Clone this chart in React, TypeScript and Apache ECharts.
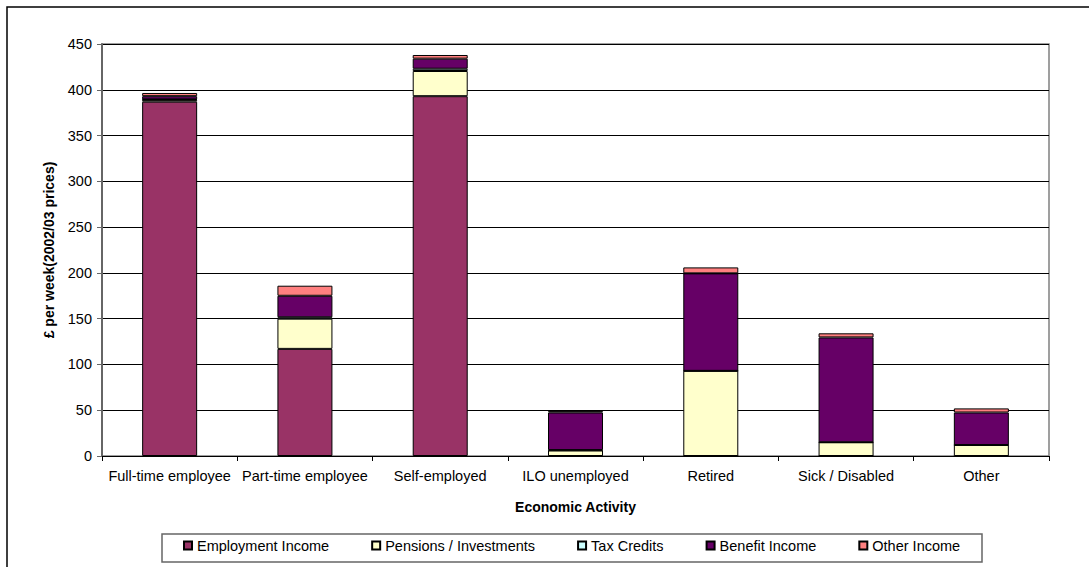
import React, { useEffect, useRef } from "react";
import * as echarts from "echarts";

const categories = [
  "Full-time employee",
  "Part-time employee",
  "Self-employed",
  "ILO unemployed",
  "Retired",
  "Sick / Disabled",
  "Other",
];
const seriesNames = [
  "Employment Income",
  "Pensions / Investments",
  "Tax Credits",
  "Benefit Income",
  "Other Income",
];
const employmentIncome = [387, 117, 393, 0, 0, 0, 0];
const pensionsInvestments = [2, 33, 27.5, 6, 93, 15, 12];
const taxCredits = [0.5, 1.5, 2.5, 0.5, 0, 0, 0];
const benefitIncome = [3.5, 23.5, 11, 41, 106.5, 114.5, 35.5];
const otherIncome = [3.5, 11, 4, 1.5, 6.5, 4.5, 4.5];
const seriesValues = [employmentIncome, pensionsInvestments, taxCredits, benefitIncome, otherIncome];
const seriesColors = ["#993366", "#FFFFCC", "#CCFFFF", "#660066", "#FF8080"];
const yTicks = { min: 0, max: 450, interval: 50 };

const FONT = "'Liberation Sans', Arial, sans-serif";

export default function App() {
  const ref = useRef<HTMLDivElement>(null);
  useEffect(() => {
    document.body.style.margin = "0";
    if (!ref.current) return;
    const chart = echarts.init(ref.current, null, { renderer: "svg" });
    chart.setOption({
      animation: false,
      backgroundColor: "#ffffff",
      textStyle: { fontFamily: FONT },
      grid: {
        left: 102,
        right: 40,
        top: 44,
        bottom: 111,
        show: true,
        borderColor: "#808080",
        borderWidth: 1.5,
        backgroundColor: "transparent",
      },
      graphic: [
        {
          type: "rect",
          shape: { x: 7, y: 7, width: 1100, height: 600 },
          style: { fill: "none", stroke: "#000", lineWidth: 1.5 },
          silent: true,
          z: -1,
        },
        {
          type: "rect",
          shape: { x: 162, y: 534, width: 820, height: 28 },
          style: { fill: "none", stroke: "#666", lineWidth: 1.5 },
          silent: true,
        },
      ],
      legend: {
        data: seriesNames,
        left: 183,
        top: 538,
        padding: 0,
        itemWidth: 8,
        itemHeight: 8,
        itemGap: 42,
        icon: "rect",
        textStyle: { fontSize: 14.5, color: "#000", fontFamily: FONT },
      },
      xAxis: {
        type: "category",
        data: categories,
        name: "Economic Activity",
        nameLocation: "middle",
        nameGap: 44,
        nameTextStyle: { fontSize: 14, fontWeight: "bold", color: "#000", fontFamily: FONT },
        axisLine: { lineStyle: { color: "#000", width: 1 } },
        axisTick: { show: true, length: 5, lineStyle: { color: "#000" } },
        axisLabel: { fontSize: 14.5, color: "#000", margin: 12, interval: 0, fontFamily: FONT },
        splitLine: { show: false },
      },
      yAxis: {
        type: "value",
        min: yTicks.min,
        max: yTicks.max,
        interval: yTicks.interval,
        name: "£ per week(2002/03 prices)",
        nameLocation: "middle",
        nameGap: 46,
        nameRotate: 90,
        nameTextStyle: { fontSize: 14, fontWeight: "bold", color: "#000", fontFamily: FONT },
        axisLine: { show: true, lineStyle: { color: "#666", width: 2 } },
        axisTick: { show: true, length: 5, lineStyle: { color: "#666" } },
        axisLabel: { fontSize: 14.5, color: "#000", margin: 10, fontFamily: FONT },
        splitLine: { show: true, lineStyle: { color: "#000", width: 1 } },
      },
      series: seriesNames.map((name, i) => ({
        name,
        type: "bar",
        stack: "total",
        data: seriesValues[i],
        barWidth: 55,
        itemStyle: { color: seriesColors[i], borderColor: "#000", borderWidth: 1 },
        emphasis: { disabled: true },
      })),
    });
    return () => chart.dispose();
  }, []);
  return <div ref={ref} style={{ width: 1089, height: 567 }} />;
}
